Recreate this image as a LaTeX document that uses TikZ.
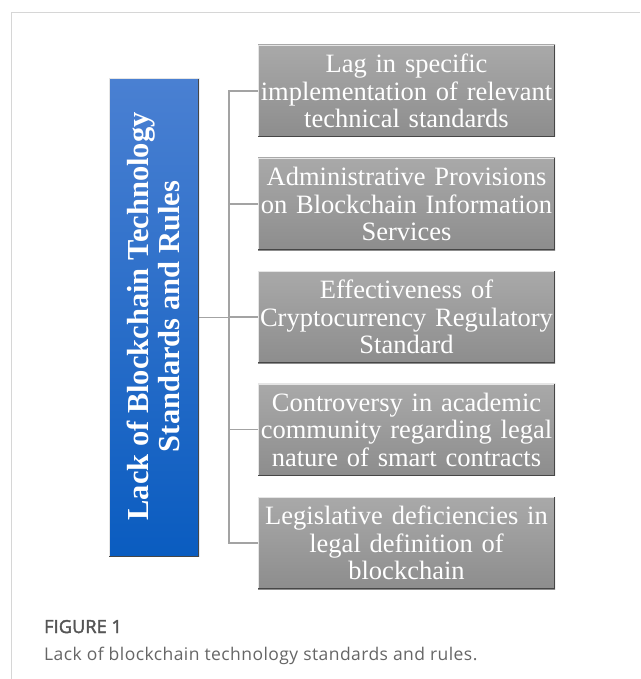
\documentclass[tikz,border=0pt]{standalone}
\usepackage{fontspec}
\setmainfont{Liberation Serif}
\newfontfamily\capfont{Open Sans}
\usetikzlibrary{calc}
\definecolor{frameline}{HTML}{D6D6D6}
\definecolor{conn}{HTML}{A3A3A3}
\definecolor{graytop}{HTML}{A9A9A9}
\definecolor{graybot}{HTML}{8D8D8D}
\definecolor{bluetop}{HTML}{4A80D2}
\definecolor{bluebot}{HTML}{0A5CC0}
\definecolor{captext}{HTML}{555555}
\definecolor{captextb}{HTML}{666666}
\tikzset{
  x=1pt, y=1pt,
  itembox/.style={minimum width=297pt, minimum height=92pt, inner sep=0pt,
    top color=graytop, bottom color=graybot, text=white, align=center,
    text width=297pt, font=\fontsize{26.5}{27.5}\selectfont},
  mainbox/.style={minimum width=90pt, minimum height=478pt, inner sep=0pt,
    top color=bluetop, bottom color=bluebot},
  bevlight/.style={line width=1.2pt, white!80!gray},
  bevdark/.style={line width=1.2pt, black!45!gray},
  connector/.style={draw=conn, line width=1.4pt},
}
\begin{document}
\begin{tikzpicture}
\useasboundingbox (0,0) rectangle (640,-679);
\fill[white] (0,0) rectangle (640,-679);
% frame
\draw[frameline, line width=1pt] (11,-679) -- (11,-13) -- (640,-13);
% main box
\node[mainbox] (main) at (154,-317.5) {};
\node[rotate=90, text=white, align=center, font=\bfseries\fontsize{30.5}{31}\selectfont] (maintext) at (153.5,-316.5) {Lack of Blockchain Technology\\Standards and Rules};
% item boxes
\node[itembox] (b1) at (406.5,-91) {Lag in specific\\implementation of relevant\\technical standards};
\node[itembox] (b2) at (406.5,-204) {Administrative Provisions\\on Blockchain Information\\Services};
\node[itembox] (b3) at (406.5,-317) {Effectiveness of\\Cryptocurrency Regulatory\\Standard};
\node[itembox] (b4) at (406.5,-429.5) {Controversy in academic\\community regarding legal\\nature of smart contracts};
\node[itembox] (b5) at (406.5,-543) {Legislative deficiencies in\\legal definition of\\blockchain};
% bevels
\foreach \b in {b1,b2,b3,b4,b5,main}{
  \draw[bevlight] ([shift={(0.6,0.6)}]\b.south west) -- ([shift={(0.6,-0.6)}]\b.north west) -- ([shift={(-0.6,-0.6)}]\b.north east);
  \draw[bevdark] ([shift={(-0.6,-0.6)}]\b.north east) -- ([shift={(-0.6,0.6)}]\b.south east) -- ([shift={(0.6,0.6)}]\b.south west);
}
% connectors
\coordinate (trunk) at (229,-317.5);
\draw[connector] (main.east |- trunk) -- (trunk);
\draw[connector] (b1.west) -| (trunk);
\draw[connector] (b5.west) -| (trunk);
\foreach \b in {b2,b3,b4}{
  \draw[connector] (\b.west -| trunk) -- (\b.west);
}
% caption
\node[anchor=base west, inner sep=0pt, text=captext, font=\capfont\fontsize{18}{20}\selectfont\addfontfeature{FakeBold=2.2,LetterSpace=1}] (cap1) at (44,-633) {FIGURE 1};
\node[anchor=base west, inner sep=0pt, text=captextb, font=\capfont\fontsize{17.5}{20}\selectfont\addfontfeature{LetterSpace=2.5}] (cap2) at (44,-660) {Lack of blockchain technology standards and rules.};
\end{tikzpicture}
\end{document}
